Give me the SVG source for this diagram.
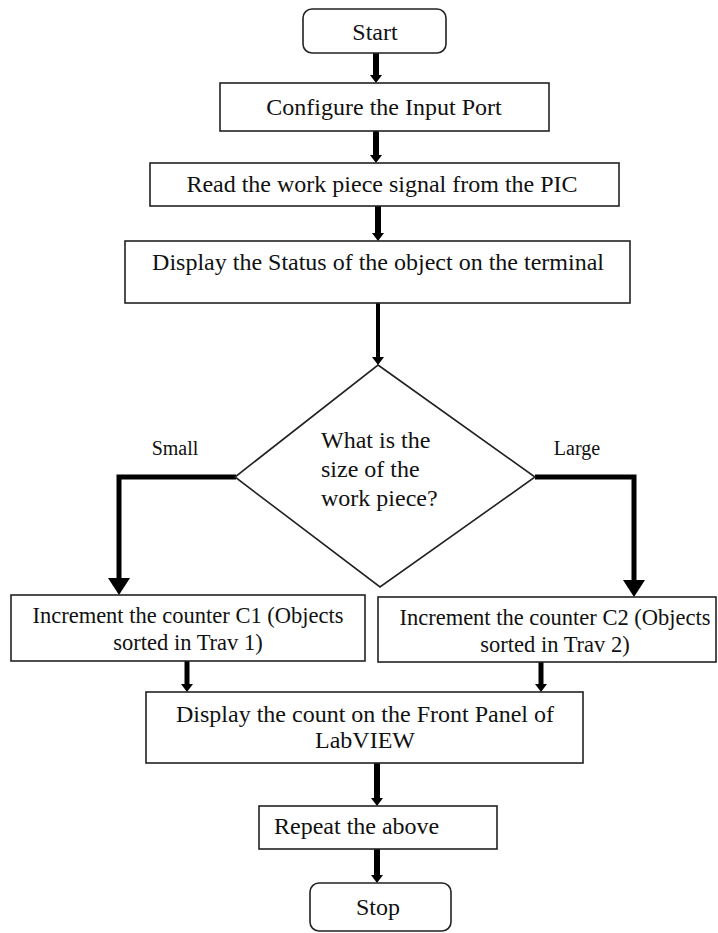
<svg xmlns="http://www.w3.org/2000/svg" width="718" height="933" viewBox="0 0 718 933">
<style>
.box{fill:#fff;stroke:#222;stroke-width:1.6}
.t{font-family:"Liberation Serif","Times New Roman",serif;font-size:24px;fill:#111}
.m{text-anchor:middle}
.s{font-size:22.5px}
.lbl{font-family:"Liberation Serif","Times New Roman",serif;font-size:20px;fill:#111;text-anchor:middle}
.c{stroke:#000;stroke-width:5;fill:none;marker-end:url(#h)}
.c2{stroke:#000;stroke-width:6;fill:none;marker-end:url(#h)}
.c3{stroke:#000;stroke-width:4;fill:none;marker-end:url(#h)}
.b{stroke:#000;stroke-width:5;fill:none;marker-end:url(#H)}
</style>
<defs>
<marker id="h" markerUnits="userSpaceOnUse" markerWidth="8" markerHeight="12" refX="0" refY="6" orient="auto" viewBox="0 0 8 12">
<path d="M0,0 L8,6 L0,12 Z" fill="#000"/>
</marker>
<marker id="H" markerUnits="userSpaceOnUse" markerWidth="17" markerHeight="22" refX="0" refY="11" orient="auto" viewBox="0 0 17 22">
<path d="M0,0 L17,11 L0,22 Z" fill="#000"/>
</marker>
</defs>
<rect width="718" height="933" fill="#fff"/>
<g id="connectors">
<path class="c2" d="M376,53 V75"/>
<path class="c2" d="M376,131 V155"/>
<path class="c2" d="M378,206 V233"/>
<path class="c3" d="M378,303 V357"/>
<path class="b" d="M236,477 H119 V578"/>
<path class="b" d="M535,477 H634 V580"/>
<path class="c" d="M187,661 V684"/>
<path class="c" d="M541,662 V684"/>
<path class="c2" d="M377,763 V798"/>
<path class="c2" d="M377,849 V875"/>
</g>
<g id="start"><rect class="box" x="303" y="9" width="143" height="44" rx="9"/><text class="t m" x="375" y="40">Start</text></g>
<g id="configure"><rect class="box" x="220" y="83" width="329" height="48"/><text class="t m" x="384" y="115">Configure the Input Port</text></g>
<g id="read"><rect class="box" x="150" y="163" width="469" height="43"/><text class="t m" x="382" y="192">Read the work piece signal from the PIC</text></g>
<g id="status"><rect class="box" x="125" y="241" width="505" height="62"/><text class="t m" x="378" y="270">Display the Status of the object on the terminal</text></g>
<g id="decision"><path class="box" d="M378,365 L535,477 L380,587 L235,477 Z"/>
<text class="t" x="321" y="448">What is the</text><text class="t" x="321" y="477">size of the</text><text class="t" x="321" y="506">work piece?</text></g>
<g id="lbl-small"><text class="lbl" x="175" y="455">Small</text></g>
<g id="lbl-large"><text class="lbl" x="577" y="455">Large</text></g>
<g id="inc1"><rect class="box" x="11" y="595" width="354" height="66"/><text class="t s m" x="188" y="623">Increment the counter C1 (Objects</text><text class="t s m" x="188" y="650">sorted in Trav 1)</text></g>
<g id="inc2"><rect class="box" x="378" y="597" width="338" height="65"/><text class="t s m" x="555" y="625">Increment the counter C2 (Objects</text><text class="t s m" x="555" y="652">sorted in Trav 2)</text></g>
<g id="count"><rect class="box" x="146" y="692" width="437" height="71"/><text class="t m" x="365" y="722">Display the count on the Front Panel of</text><text class="t m" x="365" y="748">LabVIEW</text></g>
<g id="repeat"><rect class="box" x="259" y="806" width="238" height="43"/><text class="t" x="274" y="834">Repeat the above</text></g>
<g id="stop"><rect class="box" x="310" y="883" width="141" height="48" rx="9"/><text class="t m" x="378" y="915">Stop</text></g>
</svg>
